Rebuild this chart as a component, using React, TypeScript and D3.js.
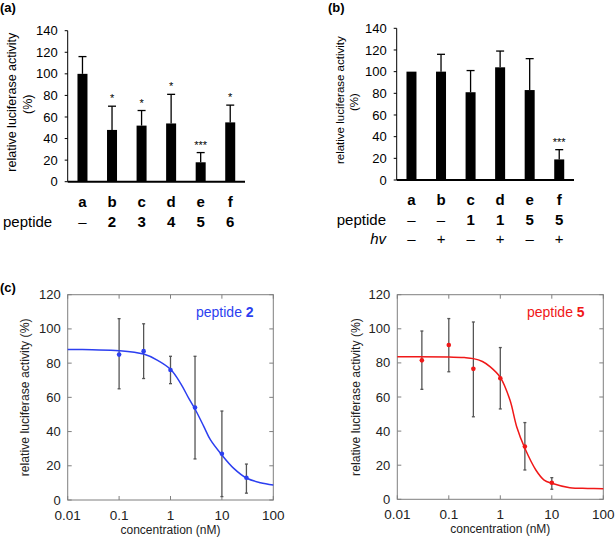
import React from 'react';
import * as d3 from 'd3';

// ---------- DATA ----------
const catsA = ['a', 'b', 'c', 'd', 'e', 'f'];
const peptideA = ['–', '2', '3', '4', '5', '6'];
const meansA = [100, 48, 52, 54, 18, 55];
const sdA = [16, 22, 14, 27, 9, 16];
const sigA = ['', '*', '*', '*', '***', '*'];

const catsB = ['a', 'b', 'c', 'd', 'e', 'f'];
const peptideB = ['–', '–', '1', '1', '5', '5'];
const hvB = ['–', '+', '–', '+', '–', '+'];
const meansB = [100, 100, 81, 104, 83, 19];
const sdB = [0, 16, 20, 15, 29, 9];
const sigB = ['', '', '', '', '', '***'];

const barTicks = [0, 20, 40, 60, 80, 100, 120, 140];

const concP2 = [0.1, 0.3, 1, 3, 10, 30];
const meanP2 = [85, 87, 76, 54, 27, 13];
const loP2 = [65, 71, 68, 24, 2, 4];
const hiP2 = [106, 103, 84, 84, 52, 21];
const fitConcP2 = [0.01, 0.03, 0.1, 0.3, 0.55, 1, 1.57, 2.27, 3.07, 4.46, 6, 10, 17, 30.6, 56, 100];
const fitValP2 = [88, 87.8, 87.3, 85.3, 81.8, 76.4, 68.2, 59.4, 52.6, 42.9, 35.1, 26.3, 18.5, 12.7, 10.1, 8.8];

const concP5 = [0.03, 0.1, 0.3, 1, 3, 10];
const meanP5 = [81.5, 90.5, 76.5, 71, 31, 9.7];
const loP5 = [64.5, 74.8, 48.4, 53, 17.2, 5.9];
const hiP5 = [98.7, 106, 104, 89, 45, 12.7];
const fitConcP5 = [0.01, 0.1, 0.2, 0.3, 0.45, 0.63, 1, 1.54, 2.08, 3, 4.9, 7.1, 10, 22.4, 50, 100];
const fitValP5 = [83.6, 83.5, 83.1, 82.5, 80.8, 77.8, 71.5, 58.2, 42.6, 29.9, 17.2, 11.3, 9.4, 6.8, 6.4, 6.2];

const doseTicksY = [0, 20, 40, 60, 80, 100, 120];
const doseTicksX = [0.01, 0.1, 1, 10, 100];
const doseTickLabels = ['0.01', '0.1', '1', '10', '100'];

const FONT = 'Liberation Sans, Arial, Helvetica, sans-serif';

function BarPanel(props: any) {
  const { x0, x1, y0, y1, cats, means, sds, sigs, labelSize, labelX, pctX } = props;
  const x = d3.scaleBand().domain(cats).range([x0, x1]);
  const y = d3.scaleLinear().domain([0, 140]).range([y0, y1]);
  const bw = 10;
  return (
    <g>
      {means.map((m: number, i: number) => {
        const cx = (x(cats[i]) as number) + x.bandwidth() / 2;
        const top = m + sds[i];
        return (
          <g key={i}>
            <rect x={cx - bw / 2} y={y(m)} width={bw} height={y(0) - y(m)} fill="#000" />
            {sds[i] > 0 && (
              <g stroke="#000" strokeWidth={1.3}>
                <line x1={cx} x2={cx} y1={y(m)} y2={y(top)} />
                <line x1={cx - 4} x2={cx + 4} y1={y(top)} y2={y(top)} />
              </g>
            )}
            {sigs[i] && (
              <text x={cx} y={y(top) - 4} textAnchor="middle" fontSize={11} fontFamily={FONT}>
                {sigs[i]}
              </text>
            )}
          </g>
        );
      })}
      <line x1={x0} x2={x0} y1={y0} y2={y1} stroke="#000" strokeWidth={1} />
      <line x1={x0} x2={x1} y1={y0} y2={y0} stroke="#000" strokeWidth={2} />
      {barTicks.map((t) => (
        <g key={t}>
          <line x1={x0 - 3} x2={x0} y1={y(t)} y2={y(t)} stroke="#000" />
          <text x={x0 - 10} y={y(t)} dy="0.35em" textAnchor="end" fontSize={13} fontFamily={FONT}>
            {t}
          </text>
        </g>
      ))}
      <text
        transform={`translate(${labelX},${(y0 + y1) / 2 - 4}) rotate(-90)`}
        textAnchor="middle"
        fontSize={labelSize}
        fontFamily={FONT}
      >
        relative luciferase activity
      </text>
      <text
        transform={`translate(${pctX},${(y0 + y1) / 2 - 2}) rotate(-90)`}
        textAnchor="middle"
        fontSize={labelSize}
        fontFamily={FONT}
      >
        (%)
      </text>
      {props.rows.map((row: any, ri: number) => (
        <g key={ri}>
          {row.label && (
            <text
              x={row.labelX}
              y={row.y}
              textAnchor={row.anchor}
              fontSize={15}
              fontStyle={row.italic ? 'italic' : 'normal'}
              fontFamily={FONT}
            >
              {row.label}
            </text>
          )}
          {row.values.map((v: string, i: number) => {
            const cx = (x(cats[i]) as number) + x.bandwidth() / 2;
            return (
              <text
                key={i}
                x={cx}
                y={row.y}
                textAnchor="middle"
                fontSize={15}
                fontWeight={row.boldVals && v !== '–' && v !== '+' ? 'bold' : 'normal'}
                fontFamily={FONT}
              >
                {v}
              </text>
            );
          })}
        </g>
      ))}
    </g>
  );
}

function DosePanel(props: any) {
  const { x0, x1, y0, y1, conc, mean, lo, hi, fitC, fitV, color, num, labelX, legendX } = props;
  const x = d3.scaleLog().domain([0.01, 100]).range([x0, x1]);
  const y = d3.scaleLinear().domain([0, 120]).range([y0, y1]);
  const line = d3
    .line<number>()
    .x((_, i) => x(fitC[i]))
    .y((v) => y(v))
    .curve(d3.curveCatmullRom.alpha(0.5));
  return (
    <g>
      <rect x={x0} y={y1} width={x1 - x0} height={y0 - y1} fill="none" stroke="#7f7f7f" strokeWidth={1} />
      {doseTicksY.map((t) => (
        <g key={t}>
          <line x1={x0} x2={x0 + 4} y1={y(t)} y2={y(t)} stroke="#7f7f7f" />
          <line x1={x1 - 4} x2={x1} y1={y(t)} y2={y(t)} stroke="#7f7f7f" />
          <text x={x0 - 7} y={y(t)} dy="0.35em" textAnchor="end" fontSize={13} fontFamily={FONT} fill="#222">
            {t}
          </text>
        </g>
      ))}
      {doseTicksX.map((t, i) => (
        <g key={t}>
          <line x1={x(t)} x2={x(t)} y1={y0} y2={y0 - 4} stroke="#7f7f7f" />
          <line x1={x(t)} x2={x(t)} y1={y1} y2={y1 + 4} stroke="#7f7f7f" />
          <text x={x(t)} y={y0 + 20} textAnchor="middle" fontSize={13.5} fontFamily={FONT} fill="#222">
            {doseTickLabels[i]}
          </text>
        </g>
      ))}
      <text x={(x0 + x1) / 2} y={y0 + 34} textAnchor="middle" fontSize={12} fontFamily={FONT} fill="#222">
        concentration (nM)
      </text>
      <text
        transform={`translate(${labelX},${(y0 + y1) / 2}) rotate(-90)`}
        textAnchor="middle"
        fontSize={12.2}
        fontFamily={FONT}
        fill="#222"
      >
        relative luciferase activity (%)
      </text>
      {conc.map((c: number, i: number) => (
        <g key={i} stroke="#555" strokeWidth={1.3}>
          <line x1={x(c)} x2={x(c)} y1={y(lo[i])} y2={y(hi[i])} />
          <line x1={x(c) - 1.5} x2={x(c) + 1.5} y1={y(lo[i])} y2={y(lo[i])} />
          <line x1={x(c) - 1.5} x2={x(c) + 1.5} y1={y(hi[i])} y2={y(hi[i])} />
        </g>
      ))}
      <path d={line(fitV) || ''} fill="none" stroke={color} strokeWidth={1.5} />
      {conc.map((c: number, i: number) => (
        <circle key={i} cx={x(c)} cy={y(mean[i])} r={2.3} fill={color} />
      ))}
      <text x={legendX} y={y1 + 22} fontSize={14} fontFamily={FONT} fill={color}>
        peptide <tspan fontWeight="bold">{num}</tspan>
      </text>
    </g>
  );
}

export default function App() {
  return (
    <svg width={616} height={540} style={{ position: 'absolute', left: 0, top: 0, background: '#fff' }}>
      <rect x={0} y={0} width={616} height={540} fill="#fff" />
      <text x={0} y={12} fontSize={13} fontWeight="bold" fontFamily={FONT}>(a)</text>
      <text x={328} y={12} fontSize={13} fontWeight="bold" fontFamily={FONT}>(b)</text>
      <text x={0} y={292} fontSize={13} fontWeight="bold" fontFamily={FONT}>(c)</text>
      <BarPanel
        x0={67.7}
        x1={245}
        y0={181.7}
        y1={30.7}
        cats={catsA}
        means={meansA}
        sds={sdA}
        sigs={sigA}
        labelSize={12.5}
        labelX={16}
        pctX={32}
        rows={[
          { y: 207, values: catsA, boldVals: true },
          { y: 227, label: 'peptide', labelX: 3, anchor: 'start', values: peptideA, boldVals: true },
        ]}
      />
      <BarPanel
        x0={396.7}
        x1={574}
        y0={180}
        y1={28.3}
        cats={catsB}
        means={meansB}
        sds={sdB}
        sigs={sigB}
        labelSize={11.5}
        labelX={344}
        pctX={358}
        rows={[
          { y: 205, values: catsB, boldVals: true },
          { y: 225, label: 'peptide', labelX: 386, anchor: 'end', values: peptideB, boldVals: true },
          { y: 244, label: 'hv', labelX: 386, anchor: 'end', italic: true, values: hvB, boldVals: false },
        ]}
      />
      <DosePanel
        x0={67.7}
        x1={273.3}
        y0={500}
        y1={294.7}
        conc={concP2}
        mean={meanP2}
        lo={loP2}
        hi={hiP2}
        fitC={fitConcP2}
        fitV={fitValP2}
        color="#2c3ff0"
        num="2"
        labelX={29}
        legendX={196}
      />
      <DosePanel
        x0={397.3}
        x1={603.3}
        y0={499.3}
        y1={294.7}
        conc={concP5}
        mean={meanP5}
        lo={loP5}
        hi={hiP5}
        fitC={fitConcP5}
        fitV={fitValP5}
        color="#f01818"
        num="5"
        labelX={360}
        legendX={527}
      />
    </svg>
  );
}
